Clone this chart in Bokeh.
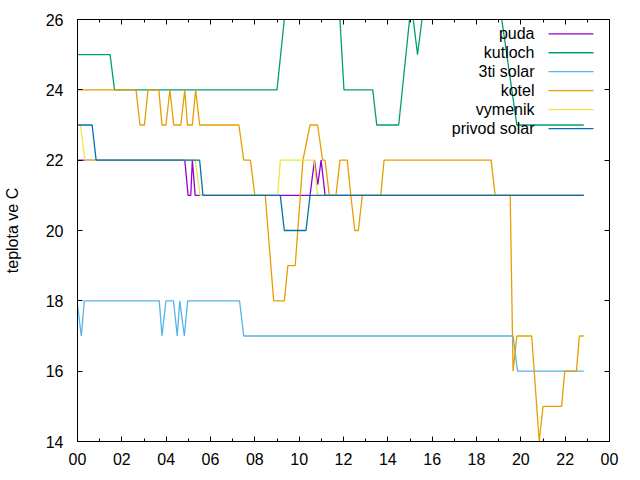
from bokeh.plotting import figure
from bokeh.models import Range1d, FixedTicker, LinearAxis, Label, Arrow, CustomLabelingPolicy
from bokeh.embed import file_html
from bokeh.resources import INLINE

# ---- data (time in hours, temperature in C) ----
puda_t = [0, 4.84, 4.99, 5.11, 5.18, 5.31, 10.49, 10.69, 10.84, 10.99, 11.17, 22.84]
puda_v = [22, 22, 21, 21, 22, 21, 21, 22, 21.3, 22, 21, 21]

kutloch_t = [0, 1.47, 1.67, 9.0, 9.33, 9.5, 11.74, 11.84, 12.02, 13.32, 13.5, 14.49,
             14.98, 15.06, 15.34, 15.54, 15.64, 19.0, 19.14, 19.82, 22.84]
kutloch_v = [25, 25, 24, 24, 26, 27, 27, 26, 24, 24, 23, 23,
             26, 26.45, 25, 26, 26.5, 26.6, 26, 23, 23]

solar3_t = [0, 0.17, 0.31, 3.69, 3.81, 3.99, 4.33, 4.5, 4.61, 4.82, 4.97, 7.31, 7.5,
            19.65, 19.85, 22.84]
solar3_v = [17.9, 17, 18, 18, 17, 18, 18, 17, 18, 17, 18, 18, 17, 17, 16, 16]

kotel_t = [0, 2.64, 2.82, 3.02, 3.18, 3.67, 3.81, 3.99, 4.17, 4.34, 4.66, 4.84, 4.96,
           5.18, 5.33, 5.51, 7.28, 7.5, 7.8, 8.0, 8.47, 8.85, 9.33, 9.49, 9.82, 10.17,
           10.49, 10.83, 11.06, 11.17, 11.36, 11.66, 11.84, 12.17, 12.33, 12.51, 12.67,
           12.85, 13.68, 13.83, 18.66, 18.84, 19.52, 19.65, 19.82, 20.49, 20.83, 21.0,
           21.84, 21.98, 22.51, 22.64, 22.84]
kotel_v = [24, 24, 23, 23, 24, 24, 23, 23, 24, 23, 23, 24, 23,
           23, 24, 23, 23, 22, 22, 21, 21, 18, 18, 19, 19, 22,
           23, 23, 22, 22, 21, 21, 22, 22, 21, 20, 20,
           21, 21, 22, 22, 21, 21, 16, 17, 17, 14, 15,
           15, 16, 16, 17, 17]

vymenik_t = [0, 0.13, 0.34, 5.31, 5.53, 9.03, 9.15, 10.67, 10.83, 22.84]
vymenik_v = [23, 23, 22, 22, 21, 21, 22, 22, 21, 21]

privod_t = [0, 0.66, 0.84, 5.51, 5.66, 9.15, 9.33, 10.31, 10.49, 22.84]
privod_v = [23, 23, 22, 22, 21, 21, 20, 20, 21, 21]

series_names = ["puda", "kutloch", "3ti solar", "kotel", "vymenik", "privod solar"]
series_colors = ["#9400d3", "#009e73", "#56b4e9", "#e69f00", "#f0e442", "#0072b2"]
series_data = [(puda_t, puda_v), (kutloch_t, kutloch_v), (solar3_t, solar3_v),
               (kotel_t, kotel_v), (vymenik_t, vymenik_v), (privod_t, privod_v)]

x_ticks = list(range(0, 25, 2))
x_minor = list(range(1, 24, 2))
x_tick_labels = ["00", "02", "04", "06", "08", "10", "12", "14", "16", "18", "20", "22", "00"]
y_ticks = [14, 16, 18, 20, 22, 24, 26]
y_label = "teplota ve C"

FONT = "Liberation Sans"
FS = "16px"

p = figure(width=640, height=480, output_backend="svg", toolbar_location=None,
           x_range=Range1d(0, 24), y_range=Range1d(14, 26),
           min_border_left=74, min_border_right=31, min_border_top=19, min_border_bottom=39)
p.grid.visible = False
p.outline_line_color = "black"
p.outline_line_width = 1
p.background_fill_color = "white"
p.border_fill_color = "white"

xt = FixedTicker(ticks=x_ticks, minor_ticks=x_minor)
yt = FixedTicker(ticks=y_ticks, minor_ticks=[])

xa = p.xaxis[0]
xa.ticker = xt
xa.major_label_overrides = {t: s for t, s in zip(x_ticks, x_tick_labels)}
ya = p.yaxis[0]
ya.ticker = yt
ya.axis_label = y_label

for ax in (xa, ya):
    ax.major_tick_in = 5
    ax.major_tick_out = 0
    ax.minor_tick_in = 3
    ax.minor_tick_out = 0
    ax.axis_line_color = "black"
    ax.major_label_text_font = FONT
    ax.major_label_text_font_size = FS
    ax.major_label_text_color = "black"
    ax.axis_label_text_font = FONT
    ax.axis_label_text_font_size = FS
    ax.axis_label_text_font_style = "normal"
    ax.axis_label_text_color = "black"
xa.major_label_standoff = 11
ya.major_label_standoff = 14
ya.axis_label_standoff = 22

no_labels = "return new Set()"
top = LinearAxis(ticker=xt, major_tick_in=5, major_tick_out=0, minor_tick_in=3,
                 minor_tick_out=0, major_label_standoff=0,
                 major_label_policy=CustomLabelingPolicy(code=no_labels))
right = LinearAxis(ticker=yt, major_tick_in=5, major_tick_out=0, minor_tick_in=3,
                   minor_tick_out=0, major_label_standoff=0,
                   major_label_policy=CustomLabelingPolicy(code=no_labels))
p.add_layout(top, "above")
p.add_layout(right, "right")

for (t, v), c in zip(series_data, series_colors):
    p.line(t, v, line_color=c, line_width=1.3)

# legend (gnuplot style: text, then sample line on the right), screen units from frame bottom-left
for i, (name, c) in enumerate(zip(series_names, series_colors)):
    sy = 407.7 - i * 18.95
    p.add_layout(Label(x=457, y=sy, x_units="screen", y_units="screen", text=name,
                       text_align="right", text_baseline="middle",
                       text_font=FONT, text_font_size=FS, text_color="black"))
    p.add_layout(Arrow(x_start=471, y_start=sy, x_end=516, y_end=sy,
                       start_units="screen", end_units="screen", end=None,
                       line_color=c, line_width=1.3))

open("out.html", "w").write(file_html(p, INLINE))
